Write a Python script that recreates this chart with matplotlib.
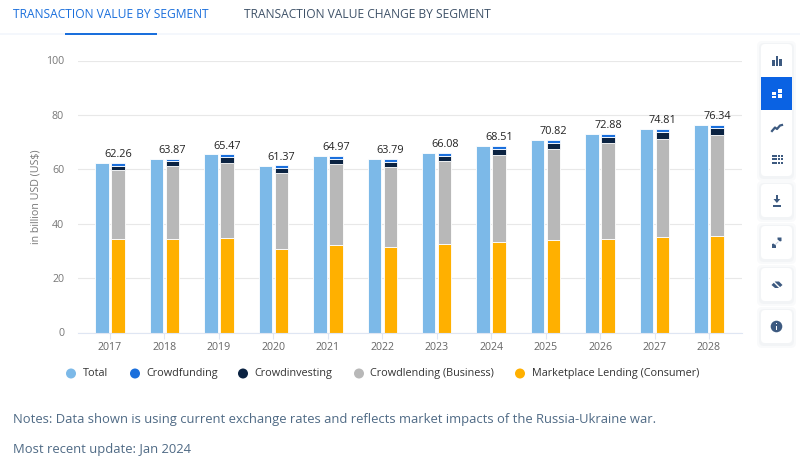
# %%
import numpy as np
import matplotlib.pyplot as plt
from matplotlib.patches import FancyBboxPatch, Rectangle, Circle, Polygon

plt.rcParams['font.family'] = ['Open Sans', 'DejaVu Sans']

years = ['2017', '2018', '2019', '2020', '2021', '2022',
         '2023', '2024', '2025', '2026', '2027', '2028']
total = [62.26, 63.87, 65.47, 61.37, 64.97, 63.79,
         66.08, 68.51, 70.82, 72.88, 74.81, 76.34]
marketplace = [34.2, 34.2, 34.6, 30.7, 32.2, 31.6,
               32.5, 33.2, 34.0, 34.5, 35.2, 35.5]
crowdlending = [25.4, 27.0, 27.9, 28.0, 29.9, 29.3,
                30.6, 32.2, 33.6, 35.0, 35.9, 37.1]
crowdinvesting = [1.7, 1.7, 1.9, 1.7, 1.8, 1.8,
                  1.9, 2.0, 2.1, 2.2, 2.5, 2.5]
crowdfunding = [1.0, 1.0, 1.1, 1.0, 1.1, 1.1,
                1.1, 1.1, 1.1, 1.2, 1.2, 1.2]

legend_names = ['Total', 'Crowdfunding', 'Crowdinvesting',
                'Crowdlending (Business)', 'Marketplace Lending (Consumer)']
legend_colors = ['#7cb9e8', '#1a6fdc', '#0b2342', '#b8b8b8', '#ffb000']
tabs = ['TRANSACTION VALUE BY SEGMENT', 'TRANSACTION VALUE CHANGE BY SEGMENT']
notes = ['Notes: Data shown is using current exchange rates and reflects '
         'market impacts of the Russia-Ukraine war.',
         'Most recent update: Jan 2024']

W, H = 800, 463
fig = plt.figure(figsize=(W / 100, H / 100), dpi=100, facecolor='white')

# chart area, placed in pixels
ax = fig.add_axes([78 / W, 1 - 332.5 / H, 664 / W, 272 / H])
x = np.arange(len(years))
bw = 13.5 / 54.45
off = 8 / 54.45
edge = dict(edgecolor='white', linewidth=0.6)
ax.bar(x - off, total, bw, color=legend_colors[0], **edge)
bottom = np.zeros(len(years))
for vals, col in [(marketplace, legend_colors[4]), (crowdlending, legend_colors[3]),
                  (crowdinvesting, legend_colors[2]), (crowdfunding, legend_colors[1])]:
    ax.bar(x + off, vals, bw, bottom=bottom, color=col, **edge)
    bottom += np.array(vals)

# the value labels sit over the stacked bar
for i, v in enumerate(total):
    ax.annotate(f'{v:.2f}', (i + off, v), xytext=(0, 2), textcoords='offset points',
                ha='center', va='bottom', fontsize=7.8, color='#222222')

ax.set_xlim(-32 / 54.45, 11 + 33 / 54.45)
ax.set_ylim(0, 100)
ax.set_xticks(x, years)
ax.set_yticks([0, 20, 40, 60, 80, 100])
ax.tick_params(axis='x', length=4, color='#dfe6f3', labelsize=7.7,
               labelcolor='#666666', pad=3)
ax.tick_params(axis='y', length=0, labelsize=7.7, labelcolor='#777777', pad=10)
ax.set_ylabel('in billion USD (US$)', fontsize=7.7, color='#777777', labelpad=3)
ax.grid(axis='y', color='#e8e8e8', linewidth=0.8)
ax.set_axisbelow(True)
for s in ['top', 'right', 'left']:
    ax.spines[s].set_visible(False)
ax.spines['bottom'].set_color('#dfe6f3')

# page furniture in pixel coordinates
page = fig.add_axes([0, 0, 1, 1], zorder=5)
page.set_xlim(0, W)
page.set_ylim(H, 0)
page.axis('off')

# tabs
page.add_patch(Rectangle((0, 32.5), W, 2, color='#f4f7fc', lw=0))
page.add_patch(Rectangle((65, 33), 92, 1.5, color='#1a6fdc', lw=0))
page.text(13, 14, tabs[0], fontsize=8.65, fontweight=500, color='#1a6fdc', va='center')
page.text(244, 14, tabs[1], fontsize=8.65, fontweight=500, color='#3f5268', va='center')

# legend
for cx, name, col in zip([71, 135, 243, 359, 520], legend_names, legend_colors):
    page.add_patch(Circle((cx, 373.5), 5, color=col, lw=0))
    page.text(cx + 11.5, 373.5, name, fontsize=7.85, color='#333333', va='center')

# notes
page.text(13, 420, notes[0], fontsize=9.4, color='#4f6a85', va='center')
page.text(13, 449.5, notes[1], fontsize=9.4, color='#4f6a85', va='center')

# side toolbar
for top, bot in [(44, 176), (184, 217), (226, 259), (268, 301), (310, 343)]:
    for grow, a in [(4, 0.03), (2, 0.04)]:
        page.add_patch(FancyBboxPatch((761 - grow, top - grow + 1), 31 + 2 * grow,
                                      bot - top + 2 * grow,
                                      boxstyle='round,pad=0,rounding_size=5',
                                      fc='#5a6f8a', ec='none', alpha=a))
    page.add_patch(FancyBboxPatch((761, top), 31, bot - top,
                                  boxstyle='round,pad=0,rounding_size=4',
                                  fc='white', ec='none'))
page.add_patch(Rectangle((761, 77), 31, 33, color='#0a62e3', lw=0))

ic = '#3d5a80'
# column icon
for px, h in [(772, 6), (775.5, 10), (779, 7)]:
    page.add_patch(Rectangle((px, 65.5 - h), 2.8, h, color=ic, lw=0))
# stacked icon
page.add_patch(Rectangle((772, 92), 4, 2.5, color='white', lw=0))
page.add_patch(Rectangle((772, 95.5), 4, 2.5, color='white', lw=0))
page.add_patch(Rectangle((777.5, 88.5), 4.5, 4, color='white', lw=0))
page.add_patch(Rectangle((777.5, 93.5), 4.5, 4.5, color='white', lw=0))
# line icon
page.plot([772, 775, 777, 780, 782], [131, 127.5, 129, 125.5, 125], color=ic, lw=1.6)
# table icon
for row in [154.5, 158, 161.5]:
    for px, w in [(771.5, 5), (777.5, 2), (780.5, 2)]:
        page.add_patch(Rectangle((px, row), w, 2, color=ic, lw=0))
# download icon
page.add_patch(Rectangle((776, 195), 1.8, 6, color=ic, lw=0))
page.add_patch(Polygon([[773.5, 199], [780.3, 199], [776.9, 203]], color=ic, lw=0))
page.add_patch(Rectangle((773, 205), 8, 1.5, color=ic, lw=0))
# expand icon
page.plot([775.5, 778], [244.5, 242], color='#c5d0de', lw=0.7)
page.add_patch(Polygon([[772, 248], [772, 244], [773.5, 243.5], [776, 245.5], [776, 248]],
                       color=ic, lw=0))
page.add_patch(Polygon([[781.5, 237.5], [781.5, 241], [780, 241.5], [777.5, 239.5], [777.5, 237.5]],
                       color=ic, lw=0))
# hide icon
page.add_patch(Polygon([[771.5, 285], [775, 281.5], [779, 281.5], [782.5, 285],
                        [779, 288], [775, 288]], color=ic, lw=0))
page.plot([773, 781], [281, 289], color='white', lw=1)
# info icon
page.add_patch(Circle((776.5, 326.5), 5.8, color=ic, lw=0))
page.add_patch(Rectangle((775.8, 325.5), 1.5, 4, color='white', lw=0))
page.add_patch(Rectangle((775.8, 322.8), 1.5, 1.5, color='white', lw=0))

fig.savefig('out.png', dpi=100)
